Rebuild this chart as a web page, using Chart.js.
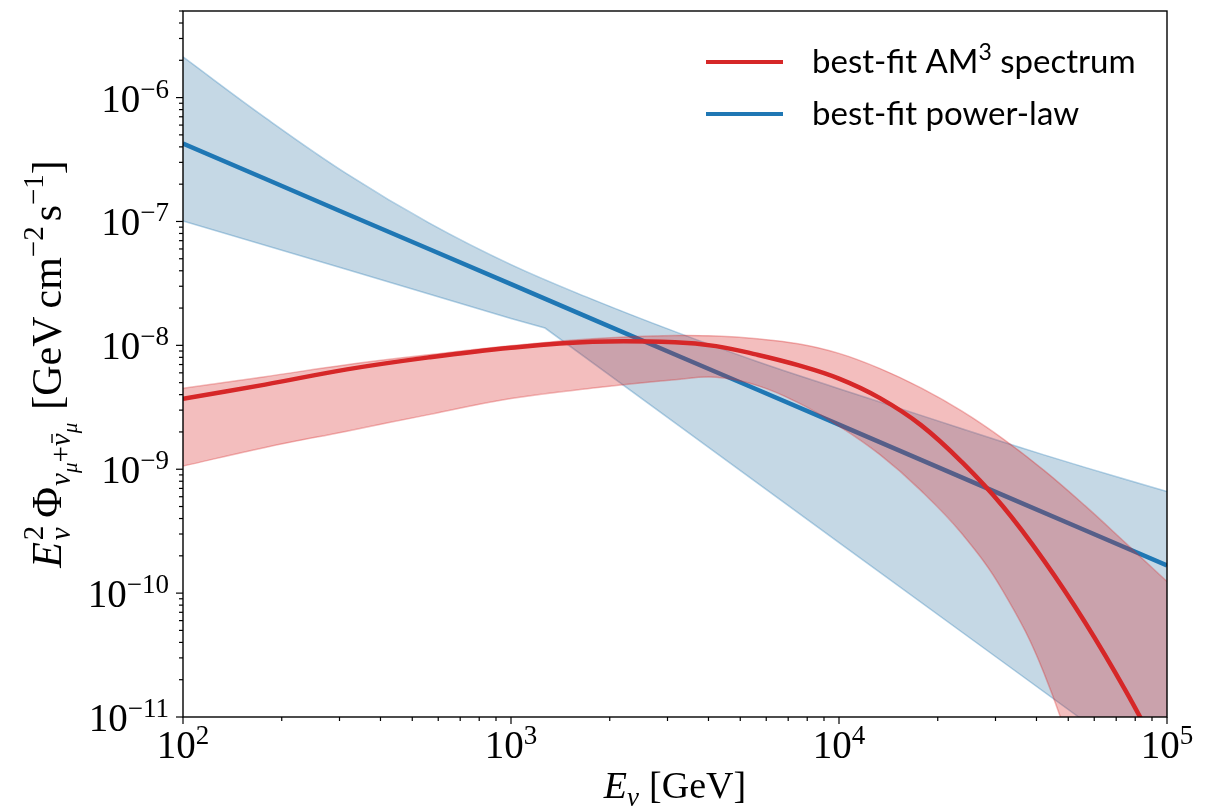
<html>
<head>
    <script type="text/javascript" src="https://cdn.jsdelivr.net/npm/chart.js@4.4.1/dist/chart.umd.min.js"></script>
    <style>
        body { margin: 0; background: #fff; }
    </style>
</head>
<body>
    <canvas id="flux" width="1209" height="809"></canvas>
    <script type="text/javascript">

        // energies in GeV, fluxes E^2 Phi in GeV cm^-2 s^-1
        var energy = [100, 178, 316, 562, 1000, 1778, 3162, 5623, 10000, 17783, 31623, 56234, 100000];
        var powerLawFlux = [4.26e-7, 2.21e-7, 1.15e-7, 6.00e-8, 3.12e-8, 1.62e-8, 8.43e-9, 4.40e-9, 2.29e-9, 1.19e-9, 6.18e-10, 3.22e-10, 1.67e-10];
        var powerLawUpper = [2.13e-6, 6.89e-7, 2.42e-7, 9.73e-8, 4.48e-8, 2.34e-8, 1.29e-8, 7.41e-9, 4.47e-9, 2.72e-9, 1.66e-9, 1.035e-9, 6.61e-10];

        var energyLower = [100, 316, 1000, 1270, 3162, 10000, 31623, 100000];
        var powerLawLower = [1.01e-7, 4.09e-8, 1.65e-8, 1.38e-8, 2.37e-9, 2.56e-10, 2.78e-11, 3.02e-12];

        var energyAM3 = [100, 178, 316, 562, 1000, 1778, 3162, 4217, 5623, 7499, 10000, 13335, 17783, 23714, 31623, 42170, 56234, 74989, 100000];
        var am3Flux = [3.70e-9, 4.82e-9, 6.40e-9, 8.00e-9, 9.57e-9, 1.07e-8, 1.06e-8, 9.86e-9, 8.41e-9, 6.92e-9, 5.39e-9, 3.75e-9, 2.27e-9, 1.14e-9, 5.00e-10, 1.83e-10, 5.82e-11, 1.61e-11, 3.9e-12];
        var am3Upper = [4.50e-9, 5.58e-9, 6.98e-9, 8.39e-9, 9.91e-9, 1.13e-8, 1.20e-8, 1.19e-8, 1.13e-8, 1.03e-8, 8.61e-9, 6.49e-9, 4.53e-9, 2.94e-9, 1.76e-9, 9.80e-10, 5.08e-10, 2.52e-10, 1.24e-10];
        var am3Lower = [1.06e-9, 1.50e-9, 2.03e-9, 2.76e-9, 3.72e-9, 4.52e-9, 5.28e-9, 5.52e-9, 4.75e-9, 3.45e-9, 2.23e-9, 1.31e-9, 6.72e-10, 3.01e-10, 1.04e-10, 2.26e-11, 2.31e-12, 1.5e-13, 6e-15];

        var xTickExp = [2, 3, 4, 5];
        var yTickExp = [-11, -10, -9, -8, -7, -6];

        var SERIF = '"Liberation Serif", "DejaVu Serif", serif';
        var SANS = 'Lato, "Open Sans", sans-serif';

        function pts(xs, ys) {
            return xs.map(function(x, i) { return {x: x, y: ys[i]}; });
        }

        function fontOf(r) {
            return (r.it ? 'italic ' : '') + r.sz + 'px ' + (r.ff || SERIF);
        }

        // lay out a row of text pieces (sub/superscripts via dy, stacked pieces share x)
        function layoutRuns(ctx, runs) {
            var pos = 0, prevStart = 0, out = [];
            runs.forEach(function(r) {
                ctx.font = fontOf(r);
                var w = ctx.measureText(r.t).width;
                var start;
                if (r.stack) { start = prevStart; }
                else { start = pos + (r.sp || 0); prevStart = start; }
                out.push({r: r, start: start, w: w});
                pos = Math.max(pos, start + w);
            });
            return {out: out, width: pos};
        }

        function drawRuns(ctx, runs, x, y, align) {
            var lay = layoutRuns(ctx, runs);
            var x0 = x;
            if (align === 'center') x0 = x - lay.width / 2;
            if (align === 'right') x0 = x - lay.width;
            ctx.textBaseline = 'alphabetic';
            ctx.textAlign = 'left';
            lay.out.forEach(function(p) {
                var r = p.r;
                var yy = y - (r.dy || 0);
                ctx.font = fontOf(r);
                ctx.fillText(r.t, x0 + p.start, yy);
                if (r.bar) {
                    ctx.beginPath();
                    ctx.lineWidth = 1.4;
                    ctx.moveTo(x0 + p.start + p.w * 0.25, yy - r.sz * 0.62);
                    ctx.lineTo(x0 + p.start + p.w * 0.95, yy - r.sz * 0.62);
                    ctx.stroke();
                }
            });
            return lay.width;
        }

        function expRuns(e, sz) {
            var s = (e < 0 ? '\u2212' : '') + Math.abs(e);
            return [{t: '10', sz: sz}, {t: s, sz: Math.round(sz * 0.7), dy: Math.round(sz * 0.37)}];
        }

        var decor = {
            id: 'decor',
            afterDraw: function(chart) {
                var ctx = chart.ctx, a = chart.chartArea;
                var xs = chart.scales.x, ys = chart.scales.y;
                ctx.save();
                ctx.fillStyle = '#000';
                ctx.strokeStyle = '#000';

                // frame
                ctx.lineWidth = 1.4;
                ctx.strokeRect(a.left, a.top, a.right - a.left, a.bottom - a.top);

                // x ticks
                ctx.lineWidth = 1.2;
                for (var d = 2; d <= 5; d++) {
                    for (var m = 1; m <= 9; m++) {
                        var v = m * Math.pow(10, d);
                        if (v < xs.min || v > xs.max) continue;
                        var px = xs.getPixelForValue(v);
                        ctx.beginPath();
                        ctx.moveTo(px, a.bottom);
                        ctx.lineTo(px, a.bottom + (m === 1 ? 7 : 4));
                        ctx.stroke();
                    }
                }
                // y ticks
                for (var dy = -11; dy <= -6; dy++) {
                    for (var k = 1; k <= 9; k++) {
                        var vy = k * Math.pow(10, dy);
                        if (vy < ys.min || vy > ys.max) continue;
                        var py = ys.getPixelForValue(vy);
                        ctx.beginPath();
                        ctx.moveTo(a.left, py);
                        ctx.lineTo(a.left - (k === 1 ? 7 : 4), py);
                        ctx.stroke();
                    }
                }

                // tick labels
                xTickExp.forEach(function(e) {
                    drawRuns(ctx, expRuns(e, 39), xs.getPixelForValue(Math.pow(10, e)), a.bottom + 41, 'center');
                });
                yTickExp.forEach(function(e) {
                    drawRuns(ctx, expRuns(e, 39), a.left - 14, ys.getPixelForValue(Math.pow(10, e)) + 14, 'right');
                });

                // axis titles
                drawRuns(ctx, [
                    {t: 'E', it: 1, sz: 38},
                    {t: '\u03bd', it: 1, sz: 27, dy: -8},
                    {t: '[GeV]', sz: 38, sp: 10}
                ], (a.left + a.right) / 2, 798, 'center');

                ctx.save();
                ctx.translate(61, (a.top + a.bottom) / 2);
                ctx.rotate(-Math.PI / 2);
                drawRuns(ctx, [
                    {t: 'E', it: 1, sz: 42},
                    {t: '2', sz: 29, dy: 18, sp: 2},
                    {t: '\u03bd', it: 1, sz: 29, dy: -9, stack: 1},
                    {t: '\u03a6', sz: 42, sp: 8},
                    {t: '\u03bd', it: 1, sz: 29, dy: -9, sp: 1},
                    {t: '\u03bc', it: 1, sz: 21, dy: -16},
                    {t: '+', sz: 29, dy: -9},
                    {t: '\u03bd', it: 1, sz: 29, dy: -9, bar: 1},
                    {t: '\u03bc', it: 1, sz: 21, dy: -16},
                    {t: '[GeV', sz: 42, sp: 13},
                    {t: 'cm', sz: 42, sp: 8},
                    {t: '\u22122', sz: 29, dy: 18},
                    {t: 's', sz: 42, sp: 5},
                    {t: '\u22121', sz: 29, dy: 18},
                    {t: ']', sz: 42}
                ], 0, 0, 'center');
                ctx.restore();

                // legend
                var ly = 62;
                chart.data.datasets.forEach(function(ds) {
                    if (!ds.inLegend) return;
                    ctx.beginPath();
                    ctx.strokeStyle = ds.borderColor;
                    ctx.lineWidth = 4;
                    ctx.moveTo(706, ly);
                    ctx.lineTo(783, ly);
                    ctx.stroke();
                    var parts = ds.label.split('^');
                    var runs = [{t: parts[0], sz: 33, ff: SANS}];
                    if (parts.length > 1) {
                        runs.push({t: parts[1].charAt(0), sz: 23, ff: SANS, dy: 13});
                        runs.push({t: parts[1].slice(1), sz: 33, ff: SANS});
                    }
                    ctx.fillStyle = '#000';
                    drawRuns(ctx, runs, 812, ly + 11, 'left');
                    ly += 52;
                });

                ctx.restore();
            }
        };

        var bandRed = 'rgba(214, 39, 40, 0.3)';
        var edgeRed = 'rgba(214, 39, 40, 0.32)';
        var bandBlue = 'rgba(40, 110, 160, 0.27)';
        var edgeBlue = 'rgba(31, 119, 180, 0.33)';

        var chart = new Chart(document.getElementById('flux').getContext('2d'), {
            type: 'line',
            data: {
                datasets: [
                    {label: 'best-fit AM^3 spectrum', inLegend: true, data: pts(energyAM3, am3Flux),
                        borderColor: '#d62728', borderWidth: 4.5, fill: false, tension: 0.4},
                    {label: 'AM3 upper', data: pts(energyAM3, am3Upper), borderColor: edgeRed, borderWidth: 1.5,
                        backgroundColor: bandRed, fill: 2, tension: 0.4},
                    {label: 'AM3 lower', data: pts(energyAM3, am3Lower), borderColor: edgeRed, borderWidth: 1.5,
                        fill: false, tension: 0.4},
                    {label: 'best-fit power-law', inLegend: true, data: pts(energy, powerLawFlux),
                        borderColor: '#1f77b4', borderWidth: 4.5, fill: false, tension: 0},
                    {label: 'PL upper', data: pts(energy, powerLawUpper), borderColor: edgeBlue, borderWidth: 1.5,
                        backgroundColor: bandBlue, fill: 5, tension: 0.4},
                    {label: 'PL lower', data: pts(energyLower, powerLawLower), borderColor: edgeBlue, borderWidth: 1.5,
                        fill: false, tension: 0}
                ]
            },
            options: {
                responsive: false,
                animation: false,
                layout: { padding: { top: 11, right: 42, bottom: 0, left: 0 } },
                datasets: { line: { pointRadius: 0, clip: 0 } },
                elements: { line: { capBezierPoints: false } },
                plugins: { legend: { display: false }, tooltip: { enabled: false } },
                scales: {
                    x: {
                        type: 'logarithmic', min: 100, max: 100000,
                        grid: { display: false }, border: { display: false },
                        ticks: { display: false },
                        afterFit: function(scale) { scale.height = 92; }
                    },
                    y: {
                        type: 'logarithmic', min: 1e-11, max: 5e-6,
                        grid: { display: false }, border: { display: false },
                        ticks: { display: false },
                        afterFit: function(scale) { scale.width = 183; }
                    }
                }
            },
            plugins: [decor]
        });

    </script>
</body>
</html>
